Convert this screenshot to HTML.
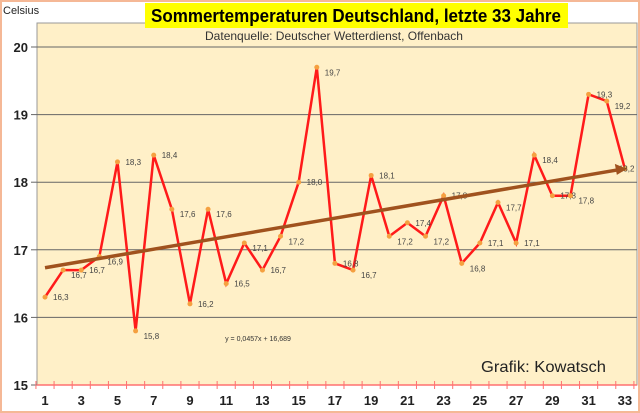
<!DOCTYPE html>
<html><head><meta charset="utf-8"><style>
body{margin:0;background:#fff;}
svg{display:block;font-family:"Liberation Sans",sans-serif;}
</style></head><body>
<svg width="640" height="413" viewBox="0 0 640 413">
<rect x="1" y="1" width="638" height="411" fill="#fff" stroke="#f5b896" stroke-width="2"/>
<rect x="37" y="23" width="600" height="362" fill="#fff0c8" stroke="#999" stroke-width="1"/>
<rect x="145" y="3" width="423" height="25" fill="#ffff00"/>
<text x="151" y="22" textLength="410" lengthAdjust="spacingAndGlyphs" font-size="18" font-weight="bold" fill="#000">Sommertemperaturen  Deutschland,  letzte 33 Jahre</text>
<text x="3" y="14" font-size="11" fill="#222">Celsius</text>
<text x="205" y="40" textLength="258" lengthAdjust="spacingAndGlyphs" font-size="12" fill="#333">Datenquelle: Deutscher Wetterdienst, Offenbach</text>
<text x="481" y="372" textLength="125" lengthAdjust="spacingAndGlyphs" font-size="16" fill="#222">Grafik: Kowatsch</text>
<text x="258" y="341" text-anchor="middle" font-size="7" fill="#333">y = 0,0457x + 16,689</text>
<g id="g"></g>
</svg>
<script>
const years=[1,2,3,4,5,6,7,8,9,10,11,12,13,14,15,16,17,18,19,20,21,22,23,24,25,26,27,28,29,30,31,32,33];
const temps=[16.3,16.7,16.7,16.9,18.3,15.8,18.4,17.6,16.2,17.6,16.5,17.1,16.7,17.2,18.0,19.7,16.8,16.7,18.1,17.2,17.4,17.2,17.8,16.8,17.1,17.7,17.1,18.4,17.8,17.8,19.3,19.2,18.2];
const yTicks=[15,16,17,18,19,20];
const xLabels=[1,3,5,7,9,11,13,15,17,19,21,23,25,27,29,31,33];
const slope=0.0457, intercept=16.689;
const NS='http://www.w3.org/2000/svg';
const g=document.getElementById('g');
const X=i=>45+(i-1)*18.12;
const Y=v=>385-(v-15)*67.6;
function el(t,a){const e=document.createElementNS(NS,t);for(const k in a)e.setAttribute(k,a[k]);g.appendChild(e);return e;}
yTicks.forEach(v=>{
 if(v>15){const l=el('line',{x1:37,x2:637,y1:Y(v),y2:Y(v),stroke:'#666','stroke-width':1});
 
 }
 const tk=el('line',{x1:31,x2:37,y1:Y(v),y2:Y(v),stroke:'#666'});
 
 
 const t=el('text',{x:28,y:Y(v)+5,'text-anchor':'end','font-size':13,'font-weight':'bold',fill:'#222'});
 t.textContent=v;
 
 
});
const ax=el('line',{x1:37,x2:637,y1:385,y2:385,stroke:'#ff7070','stroke-width':1.5});


for(let i=0;i<=33;i++){const xx=X(i+0.5);const tk=el('line',{x1:xx,x2:xx,y1:381,y2:389,stroke:'#ff7070'});
 
 }
xLabels.forEach(v=>{const t=el('text',{x:X(v),y:405,'text-anchor':'middle','font-size':13,'font-weight':'bold',fill:'#222'});
 t.textContent=v;
 
 });
const pl=el('polyline',{points:years.map((y,i)=>X(y)+','+Y(temps[i])).join(' '),fill:'none',stroke:'#ff1a1a','stroke-width':2.5});


years.forEach((y,i)=>{
 const c=el('circle',{cx:X(y),cy:Y(temps[i]),r:2.5,fill:'#f5a040'});
 
 
 const t=el('text',{x:X(y)+(i==years.length-1?-6:8),y:Y(temps[i])+(i%2?8:3),'font-size':8,fill:'#444'});
 t.textContent=temps[i].toFixed(1).replace('.',',');
 
 
});
const x1=years[0],x2=years[years.length-1];
const tr=el('line',{x1:X(x1),y1:Y(intercept+slope*x1),x2:X(x2)-6,y2:Y(intercept+slope*x2)+0.8,stroke:'#a0521e','stroke-width':3.5});


const ex=X(x2)+2,ey=Y(intercept+slope*x2);
const ah=el('polygon',{points:`${ex},${ey} ${ex-12},${ey-5} ${ex-10},${ey+6}`,fill:'#a0521e'});


</script>
</body></html>
